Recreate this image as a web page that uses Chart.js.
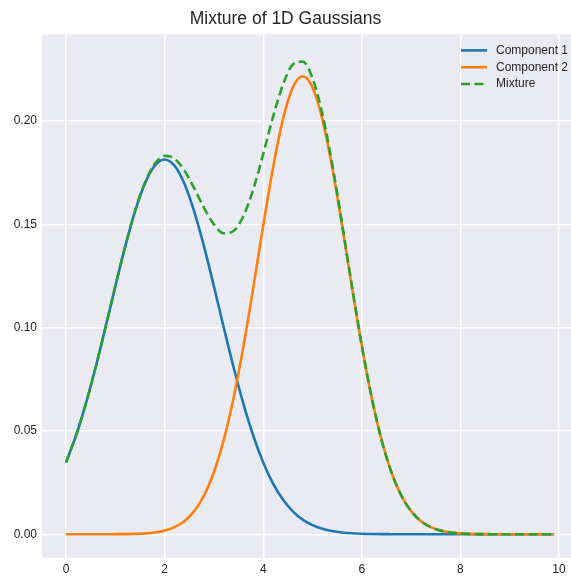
<!DOCTYPE html>
<html>
<head>
<meta charset="utf-8">
<title>Mixture of 1D Gaussians</title>
<script src="https://cdn.jsdelivr.net/npm/chart.js@4.4.1/dist/chart.umd.min.js"></script>
<style>
	html, body { margin: 0; padding: 0; background: #ffffff; }
	#chart { display: block; }
</style>
</head>
<body>
<canvas id="chart" width="571" height="579"></canvas>
<script>
// values
var xValues = [
	0.0, 0.2, 0.4, 0.6, 0.8, 1.0, 1.2, 1.4, 1.6, 1.8,
	2.0, 2.2, 2.4, 2.6, 2.8, 3.0, 3.2, 3.4, 3.6, 3.8,
	4.0, 4.2, 4.4, 4.6, 4.8, 5.0, 5.2, 5.4, 5.6, 5.8,
	6.0, 6.2, 6.4, 6.6, 6.8, 7.0, 7.2, 7.4, 7.6, 7.8,
	8.0, 8.2, 8.4, 8.6, 8.8, 9.0, 9.2, 9.4, 9.6, 9.8, 9.9
];
var component1 = [
	0.03473, 0.04754, 0.06296, 0.08068, 0.10002, 0.11996, 0.13920, 0.15628, 0.16975, 0.17838,
	0.18135, 0.17838, 0.16975, 0.15628, 0.13920, 0.11996, 0.10002, 0.08068, 0.06296, 0.04754,
	0.03473, 0.02454, 0.01678, 0.01110, 0.00710, 0.00440, 0.00264, 0.00153, 0.00086, 0.00046,
	0.00024, 0.00012, 0.00006, 0.00003, 0.00001, 0, 0, 0, 0, 0,
	0, 0, 0, 0, 0, 0, 0, 0, 0, 0, 0
];
var component2 = [
	0, 0, 0, 0, 0.00001, 0.00003, 0.00007, 0.00018, 0.00040, 0.00086,
	0.00175, 0.00342, 0.00633, 0.01117, 0.01876, 0.03000, 0.04564, 0.06610, 0.09112, 0.11955,
	0.14931, 0.17748, 0.20080, 0.21623, 0.22164, 0.21623, 0.20080, 0.17748, 0.14931, 0.11955,
	0.09112, 0.06610, 0.04564, 0.03000, 0.01876, 0.01117, 0.00633, 0.00342, 0.00175, 0.00086,
	0.00040, 0.00018, 0.00007, 0.00003, 0.00001, 0, 0, 0, 0, 0, 0
];
var mixture = [
	0.03473, 0.04754, 0.06296, 0.08068, 0.10003, 0.11999, 0.13927, 0.15646, 0.17015, 0.17924,
	0.18310, 0.18180, 0.17608, 0.16745, 0.15796, 0.14996, 0.14566, 0.14678, 0.15408, 0.16709,
	0.18404, 0.20202, 0.21758, 0.22733, 0.22874, 0.22063, 0.20344, 0.17901, 0.15017, 0.12001,
	0.09136, 0.06622, 0.04570, 0.03003, 0.01877, 0.01117, 0.00633, 0.00342, 0.00175, 0.00086,
	0.00040, 0.00018, 0.00007, 0.00003, 0.00001, 0, 0, 0, 0, 0, 0
];
var xTicks = [0, 2, 4, 6, 8, 10];
var yTicks = [0, 0.05, 0.10, 0.15, 0.20];

var textColor = '#262626';
var fontFamily = 'Arial, "Liberation Sans", sans-serif';

function points(ys) {
	return xValues.map(function(x, i) {
		return { x: x, y: ys[i] };
	});
}

var plotBackground = {
	id: 'plotBackground',
	beforeDraw: function(chart) {
		var a = chart.chartArea;
		var ctx = chart.ctx;
		ctx.save();
		ctx.fillStyle = '#eaeaf2';
		ctx.fillRect(a.left, a.top, a.right - a.left, a.bottom - a.top);
		ctx.restore();
	}
};

// legend sits inside the plot, top right, like the matplotlib one
var insideLegend = {
	id: 'insideLegend',
	afterDraw: function(chart) {
		var a = chart.chartArea;
		var ctx = chart.ctx;
		ctx.save();
		ctx.font = '12px ' + fontFamily;
		ctx.textBaseline = 'middle';
		chart.data.datasets.forEach(function(ds, i) {
			var y = a.top + 16 + i * 16.8;
			ctx.beginPath();
			ctx.strokeStyle = ds.borderColor;
			ctx.lineWidth = ds.borderWidth;
			ctx.setLineDash(ds.borderDash || []);
			ctx.moveTo(a.right - 110, y);
			ctx.lineTo(a.right - 84, y);
			ctx.stroke();
			ctx.setLineDash([]);
			ctx.fillStyle = textColor;
			ctx.fillText(ds.label, a.right - 75, y);
		});
		ctx.restore();
	}
};

new Chart(document.getElementById('chart'), {
	type: 'line',
	data: {
		datasets: [{
			label: 'Component 1',
			data: points(component1),
			borderColor: '#1f77b4',
			borderWidth: 2.6,
			order: 2
		}, {
			label: 'Component 2',
			data: points(component2),
			borderColor: '#ff7f0e',
			borderWidth: 2.6,
			order: 1
		}, {
			label: 'Mixture',
			data: points(mixture),
			borderColor: '#2ca02c',
			borderWidth: 2.6,
			borderDash: [9, 4.5],
			order: 0
		}]
	},
	options: {
		responsive: false,
		devicePixelRatio: 1,
		animation: false,
		layout: { padding: 0 },
		elements: {
			point: { radius: 0 },
			line: { cubicInterpolationMode: 'monotone', fill: false }
		},
		scales: {
			x: {
				type: 'linear',
				min: -0.487,
				max: 10.243,
				border: { display: false },
				grid: { color: '#ffffff', lineWidth: 1.4, drawTicks: false },
				ticks: {
					padding: 4,
					color: textColor,
					font: { family: fontFamily, size: 12 },
					callback: function(v) { return String(v); }
				},
				afterBuildTicks: function(scale) {
					scale.ticks = xTicks.map(function(v) { return { value: v }; });
				},
				afterFit: function(scale) { scale.height = 21; }
			},
			y: {
				min: -0.0115,
				max: 0.2419,
				border: { display: false },
				grid: { color: '#ffffff', lineWidth: 1.4, drawTicks: false },
				ticks: {
					padding: 5,
					color: textColor,
					font: { family: fontFamily, size: 12 },
					callback: function(v) { return v.toFixed(2); }
				},
				afterBuildTicks: function(scale) {
					scale.ticks = yTicks.map(function(v) { return { value: v }; });
				},
				afterFit: function(scale) { scale.width = 42; }
			}
		},
		plugins: {
			legend: { display: false },
			tooltip: { enabled: false },
			title: {
				display: true,
				text: 'Mixture of 1D Gaussians',
				color: textColor,
				font: { family: fontFamily, size: 17.5, weight: 'normal', lineHeight: 1.2 },
				padding: { top: 9, bottom: 4.4 }
			}
		}
	},
	plugins: [plotBackground, insideLegend]
});
</script>
</body>
</html>
